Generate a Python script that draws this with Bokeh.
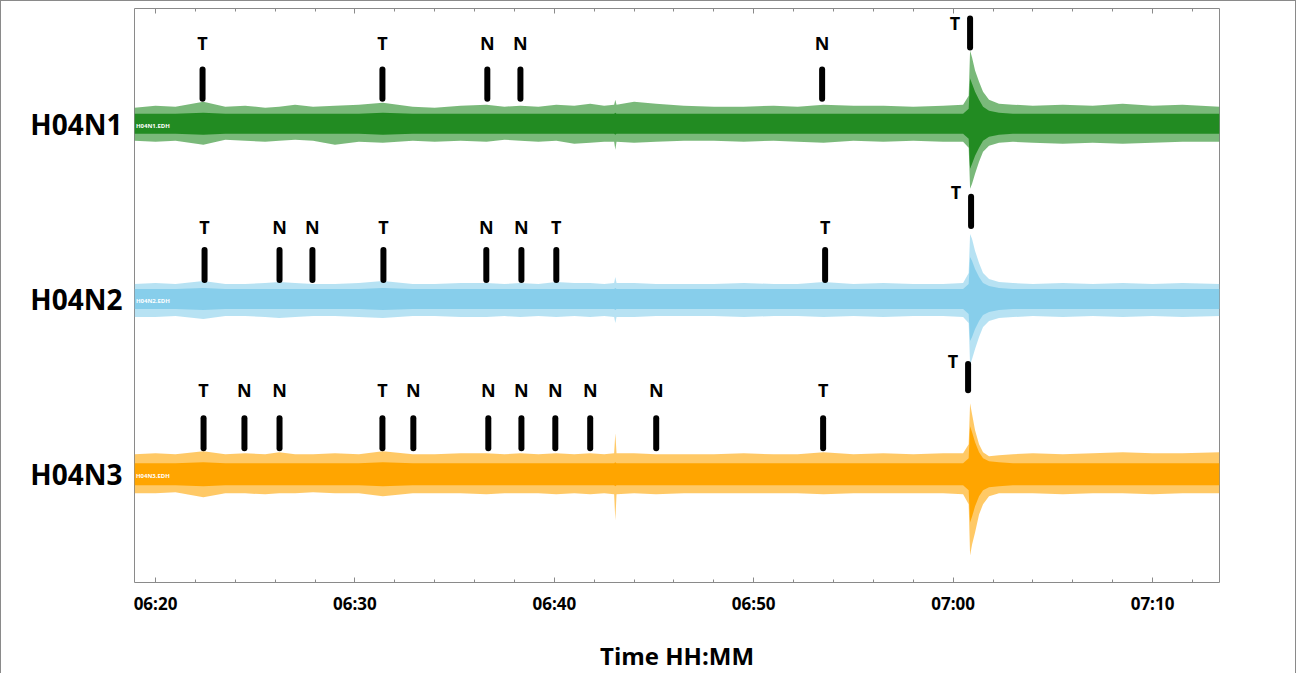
from bokeh.plotting import figure
from bokeh.models import Range1d, FixedTicker, LinearAxis, ColumnDataSource
from bokeh.core.properties import value
from bokeh.embed import file_html
from bokeh.resources import INLINE

FONT = "Open Sans"

# ---------------- data ----------------
channels = ["H04N1", "H04N2", "H04N3"]
colors = ["#228B22", "#87CEEB", "#FFA500"]
baselines = [350, 175, 0]          # trace baseline (amplitude units)

tick_minutes = [20, 30, 40, 50, 60, 70]   # minutes after 06:00
tick_labels = ["06:20", "06:30", "06:40", "06:50", "07:00", "07:10"]
x_title = "Time HH:MM"

# sample times (minutes after 06:00) for the read-off envelopes
t = [18.95, 20.0, 21.0, 22.4, 23.5, 24.5, 25.5, 26.2, 27.0, 27.9,
     29.0, 30.2, 31.4, 32.9, 34.0, 35.3, 36.6, 37.5, 38.3, 39.2,
     40.1, 41.0, 41.8, 42.5, 43.0, 43.06, 43.12, 44.0, 45.1, 46.5,
     48.0, 49.5, 51.0, 52.2, 53.5, 55.0, 56.5, 58.0, 59.5, 60.5,
     60.78, 60.85, 60.95, 61.1, 61.3, 61.5, 61.8, 62.3, 63.0, 64.0,
     65.5, 67.0, 68.5, 70.0, 71.5, 73.36]

# outer (spike) envelope above / below baseline, and dense core half-width
n1_up = [16, 18, 17, 22, 17, 18, 16, 17, 19, 17,
         18, 19, 21, 17, 16, 18, 19, 17, 18, 17,
         19, 18, 20, 18, 19, 24, 19, 22, 20, 18,
         17, 17, 18, 17, 19, 18, 18, 17, 18, 19,
         28, 73, 66, 53, 42, 32, 24, 20, 19, 18,
         19, 18, 20, 18, 19, 17]
n1_lo = [17, 18, 17, 21, 16, 17, 18, 17, 16, 17,
         21, 18, 19, 17, 18, 17, 18, 16, 17, 18,
         17, 20, 19, 18, 18, 26, 18, 19, 18, 17,
         17, 18, 17, 18, 19, 17, 18, 17, 18, 18,
         24, 65, 60, 50, 38, 28, 22, 19, 18, 19,
         20, 19, 20, 19, 18, 18]
n1_core = [10, 10, 10, 11, 10, 10, 10, 10, 10, 10,
           10, 10, 11, 10, 10, 10, 10, 10, 10, 10,
           10, 10, 10, 10, 10, 11, 10, 10, 10, 10,
           10, 10, 10, 10, 10, 10, 10, 10, 10, 10,
           15, 45, 40, 32, 24, 17, 13, 11, 10, 10,
           10, 10, 10, 10, 10, 10]

n2_up = [15, 16, 15, 18, 15, 15, 16, 17, 16, 15,
         15, 16, 18, 15, 15, 16, 16, 15, 16, 15,
         17, 16, 16, 15, 16, 22, 16, 16, 15, 15,
         15, 16, 15, 15, 17, 15, 16, 15, 15, 16,
         26, 65, 60, 48, 36, 26, 20, 17, 16, 15,
         16, 15, 16, 15, 16, 15]
n2_lo = [18, 18, 17, 20, 17, 17, 18, 19, 18, 17,
         17, 18, 19, 17, 17, 18, 18, 17, 18, 17,
         18, 17, 18, 17, 18, 24, 18, 18, 17, 17,
         17, 18, 17, 17, 18, 17, 18, 17, 17, 18,
         24, 66, 60, 50, 38, 28, 22, 19, 18, 17,
         18, 17, 18, 17, 18, 17]
n2_core = [10, 10, 10, 11, 10, 10, 10, 10, 10, 10,
           10, 10, 11, 10, 10, 10, 10, 10, 10, 10,
           10, 10, 10, 10, 10, 11, 10, 10, 10, 10,
           10, 10, 10, 10, 10, 10, 10, 10, 10, 10,
           15, 42, 38, 30, 22, 16, 13, 11, 10, 10,
           10, 10, 10, 10, 10, 10]

n3_up = [20, 21, 20, 23, 20, 21, 20, 22, 20, 20,
         21, 20, 23, 20, 20, 21, 21, 20, 21, 20,
         21, 20, 21, 20, 21, 41, 21, 21, 20, 20,
         20, 21, 20, 20, 22, 20, 21, 20, 21, 21,
         30, 71, 60, 44, 30, 22, 18, 19, 20, 21,
         20, 21, 22, 21, 21, 22]
n3_lo = [19, 19, 18, 23, 19, 19, 20, 19, 19, 18,
         19, 19, 22, 19, 19, 19, 20, 19, 19, 19,
         20, 19, 20, 19, 20, 46, 20, 19, 20, 19,
         19, 19, 19, 19, 20, 19, 19, 19, 19, 20,
         30, 81, 70, 58, 40, 30, 22, 19, 19, 19,
         20, 19, 19, 20, 19, 19]
n3_core = [11, 11, 11, 12, 11, 11, 11, 11, 11, 11,
           11, 11, 12, 11, 11, 11, 11, 11, 11, 11,
           11, 11, 11, 11, 11, 12, 11, 11, 11, 11,
           11, 11, 11, 11, 11, 11, 11, 11, 11, 11,
           16, 48, 42, 32, 22, 16, 13, 12, 11, 11,
           11, 11, 11, 11, 11, 11]

# phase picks (minutes after 06:00) and their labels
n1_pick_t = [22.36, 31.38, 36.64, 38.30, 53.43]
n1_pick_lbl = ["T", "T", "N", "N", "N"]
n2_pick_t = [22.46, 26.22, 27.87, 31.43, 36.59, 38.35, 40.10, 53.58]
n2_pick_lbl = ["T", "N", "N", "T", "N", "N", "T", "T"]
n3_pick_t = [22.41, 24.46, 26.22, 31.38, 32.93, 36.69, 38.35, 40.05, 41.80, 45.11, 53.48]
n3_pick_lbl = ["T", "N", "N", "T", "N", "N", "N", "N", "N", "N", "T"]
event_pick_t = [60.85, 60.90, 60.75]
event_pick_lbl = ["T", "T", "T"]

ups = [n1_up, n2_up, n3_up]
los = [n1_lo, n2_lo, n3_lo]
cores = [n1_core, n2_core, n3_core]
pick_ts = [n1_pick_t, n2_pick_t, n3_pick_t]
pick_lbls = [n1_pick_lbl, n2_pick_lbl, n3_pick_lbl]

# ---------------- styling (positions of pick marks relative to trace) -------
bar_lo = [25, 19, 26]
bar_hi = [54, 49, 56]
lbl_y = [81, 72, 84]
ev_bar_lo = [76, 73, 84]
ev_bar_hi = [105, 102, 110]
ev_lbl_y = [101, 107, 113]

p = figure(width=1296, height=673, output_backend="svg", toolbar_location=None,
           x_range=Range1d(18.947, 73.358), y_range=Range1d(-108, 465),
           min_border_left=133, min_border_right=78, min_border_top=7,
           min_border_bottom=92)
p.styles = {"border-top": "1px solid #8a8a8a", "border-left": "1px solid #8a8a8a",
            "border-right": "1px solid #8a8a8a"}
p.grid.visible = False
p.outline_line_color = "#8a8a8a"
p.outline_line_width = 1
p.background_fill_color = "white"
p.border_fill_color = "white"

for i in range(3):
    b = baselines[i]
    src = ColumnDataSource(dict(
        x=t,
        y1=[b - v for v in los[i]],
        y2=[b + v for v in ups[i]],
        c1=[b - v for v in cores[i]],
        c2=[b + v for v in cores[i]],
    ))
    p.varea(x="x", y1="y1", y2="y2", source=src, fill_color=colors[i], fill_alpha=0.6)
    p.varea(x="x", y1="c1", y2="c2", source=src, fill_color=colors[i], fill_alpha=1.0)

    # small station tag at the trace start
    p.text(x=[19.02], y=[b - 2], text=[channels[i] + ".EDH"], text_color="white",
           text_font=value(FONT), text_font_size="6px", text_font_style="bold",
           text_baseline="middle", text_align="left")

    pt = pick_ts[i]
    p.segment(x0=pt, y0=[b + bar_lo[i]] * len(pt), x1=pt, y1=[b + bar_hi[i]] * len(pt),
              line_color="black", line_width=6, line_cap="round")
    p.text(x=pt, y=[b + lbl_y[i]] * len(pt), text=pick_lbls[i], text_color="black",
           text_font=value(FONT), text_font_size="18px", text_font_style="bold",
           text_align="center", text_baseline="middle")

    et = [event_pick_t[i]]
    p.segment(x0=et, y0=[b + ev_bar_lo[i]], x1=et, y1=[b + ev_bar_hi[i]],
              line_color="black", line_width=6, line_cap="round")
    p.text(x=et, y=[b + ev_lbl_y[i]], text=[event_pick_lbl[i]], text_color="black",
           text_font=value(FONT), text_font_size="18px", text_font_style="bold",
           text_align="center", text_baseline="middle", x_offset=-15)

minor = list(range(18, 74, 2))

xa = p.xaxis[0]
xa.ticker = FixedTicker(ticks=tick_minutes, minor_ticks=minor)
xa.major_label_overrides = {m: l for m, l in zip(tick_minutes, tick_labels)}
xa.axis_line_color = None
xa.major_tick_in = 5
xa.major_tick_out = 0
xa.minor_tick_in = 3
xa.minor_tick_out = 0
xa.major_tick_line_color = "#8a8a8a"
xa.minor_tick_line_color = "#8a8a8a"
xa.major_label_standoff = 9
xa.major_label_text_font = FONT
xa.major_label_text_font_size = "17px"
xa.major_label_text_font_style = "bold"
xa.major_label_text_color = "black"
xa.axis_label = x_title
xa.axis_label_text_font = FONT
xa.axis_label_text_font_size = "24px"
xa.axis_label_text_font_style = "bold"
xa.axis_label_text_color = "black"
xa.axis_label_standoff = 21

top = LinearAxis(ticker=FixedTicker(ticks=tick_minutes, minor_ticks=minor))
top.major_label_overrides = {m: "" for m in tick_minutes}
top.major_label_text_font_size = "1px"
top.major_label_standoff = 0
top.axis_line_color = None
top.major_tick_in = 5
top.major_tick_out = 0
top.minor_tick_in = 3
top.minor_tick_out = 0
top.major_tick_line_color = "#8a8a8a"
top.minor_tick_line_color = "#8a8a8a"
p.add_layout(top, "above")

ya = p.yaxis[0]
ya.ticker = FixedTicker(ticks=baselines, minor_ticks=[])
ya.major_label_overrides = {b: c for b, c in zip(baselines, channels)}
ya.axis_line_color = None
ya.major_tick_in = 0
ya.major_tick_out = 0
ya.major_label_standoff = 12
ya.major_label_text_font = FONT
ya.major_label_text_font_size = "28px"
ya.major_label_text_font_style = "bold"
ya.major_label_text_color = "black"

open("out.html", "w").write(file_html(p, INLINE))
